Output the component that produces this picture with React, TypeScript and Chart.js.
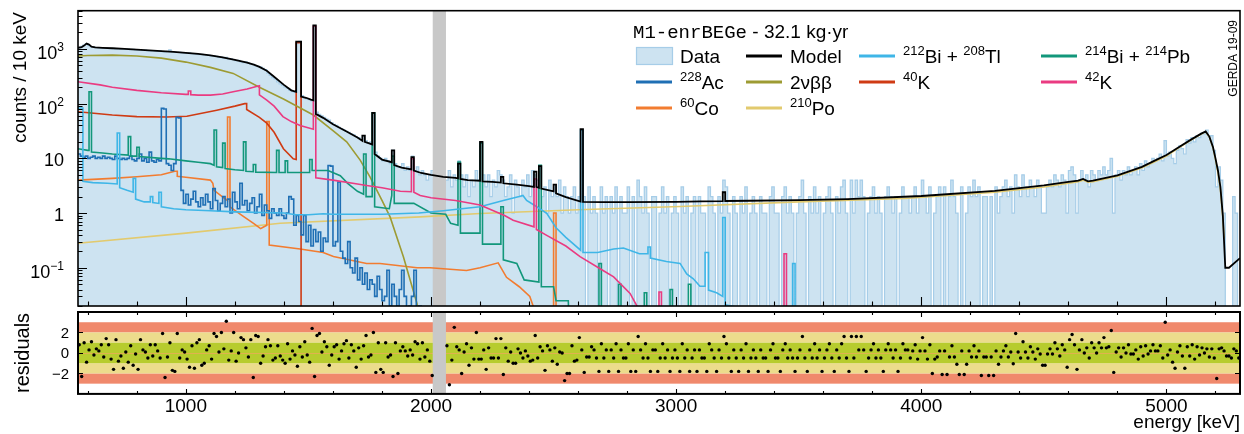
import React, { useEffect, useRef } from "react";
import { Chart, registerables } from "chart.js";

Chart.register(...registerables);

const FONT = '"Liberation Sans", Arial, Helvetica, sans-serif';
const MONO = '"Liberation Mono", "Courier New", monospace';
Chart.defaults.font.family = FONT;

// ---------- axes ----------
const E_MIN = 560;
const E_MAX = 5300;
const BIN_WIDTH = 10;
const Y_MIN = 0.02;
const Y_MAX = 5000;
const RES_MIN = -4;
const RES_MAX = 4;
const BLIND_LO = 2007;
const BLIND_HI = 2061;

const xTickLabels = [1000, 2000, 3000, 4000, 5000];
const yTickValues = [0.1, 1, 10, 100, 1000];
const yTickLabels = ["10^{−1}", "1", "10", "10^{2}", "10^{3}"];
const resTickValues = [-2, 0, 2];
const resTickLabels = ["−2", "0", "2"];

// ---------- data: counts / 10 keV, bins from 560 keV ----------
const dataCounts = [
  1060, 1120, 1180, 1250, 1150, 1090, 1080, 1060, 1040, 1050,
  1030, 1040, 1020, 1010, 1030, 1000, 1010, 990, 1000, 980,
  990, 970, 980, 960, 950, 970, 940, 950, 930, 920,
  930, 910, 900, 920, 890, 880, 900, 960, 880, 870,
  860, 870, 850, 840, 830, 850, 820, 810, 800, 790,
  800, 780, 770, 760, 740, 750, 730, 700, 710, 680,
  700, 650, 660, 640, 610, 620, 580, 560, 580, 550,
  530, 520, 490, 480, 470, 440, 420, 360, 330, 300,
  280, 250, 230, 215, 200, 190, 175, 165, 160, 1250,
  1380, 140, 128, 122, 118, 112, 2650, 70, 64, 60,
  56, 52, 50, 45, 42, 40, 37, 35, 33, 31,
  30, 28, 27, 25, 24, 22, 26, 21, 19, 20,
  68, 13, 11, 10, 9, 10, 9, 8, 14, 8,
  7, 7, 8, 6, 7, 6, 11, 6, 7, 5,
  6, 5, 4, 5, 6, 5, 4, 5, 6, 4,
  4, 6, 3, 5, 4, 9, 5, 3, 5, 2,
  4, 3, 6, 4, 20, 5, 3, 5, 2, 4,
  3, 6, 5, 4, 2, 3, 5, 1, 4, 3,
  2, 4, 3, 5, 2, 6, 5, 4, 7, 2,
  3, 1, 4, 2, 3, 2, 4, 1, 3, 2,
  1, 2, 3, 1, 2, 33, 2, 0, 3, 1,
  2, 1, 0, 3, 1, 2, 0, 2, 1, 3,
  0, 2, 1, 1, 3, 0, 2, 0, 4, 2,
  1, 3, 1, 0, 2, 2, 0, 1, 3, 1,
  2, 0, 1, 2, 1, 0, 3, 1, 2, 0,
  1, 2, 0, 2, 1, 1, 0, 3, 2, 1,
  0, 2, 1, 4, 3, 1, 0, 2, 1, 0,
  2, 1, 3, 0, 1, 2, 1, 0, 2, 1,
  1, 0, 2, 3, 1, 1, 0, 2, 3, 1,
  2, 1, 0, 1, 2, 4, 1, 0, 2, 1,
  3, 1, 2, 0, 1, 2, 3, 1, 0, 2,
  1, 3, 4, 1, 0, 4, 1, 4, 2, 4,
  2, 0, 1, 2, 3, 1, 2, 1, 0, 2,
  3, 2, 1, 2, 0, 1, 3, 2, 2, 1,
  2, 3, 1, 2, 4, 2, 1, 3, 0, 1,
  2, 3, 0, 3, 0, 2, 4, 2, 1, 0,
  3, 0, 1, 3, 2, 4, 2, 3, 0, 2,
  2, 0, 2, 0, 3, 1, 2, 3, 4, 2,
  3, 1, 5, 3, 2, 5, 3, 2, 4, 3,
  2, 4, 3, 1, 1, 3, 4, 3, 5, 4,
  3, 5, 4, 1, 6, 7, 5, 1, 4, 6,
  4, 5, 3, 6, 5, 4, 6, 5, 7, 5,
  6, 10, 1, 5, 6, 4, 6, 5, 7, 5,
  6, 7, 5, 8, 6, 9, 7, 8, 10, 9,
  10, 12, 9, 21, 11, 13, 10, 8, 14, 17,
  15, 12, 22, 19, 24, 20, 26, 24, 29, 28,
  33, 25, 26, 14, 3, 7, 4, 1, 0, 0,
  0, 2, 1, 0,
];

// residuals per 10 keV bin (null = blinded window)
const residuals = [
  0.8, -2.3, 1.0, -0.9, 0.3, 1.1, -0.2, 0.4, 0.2, 0.8,
  -0.4, 1.4, 0.8, -0.6, -1.6, 1.3, -0.8, -0.3, -1.5, 0.1,
  -0.9, 0.7, -1.2, -0.1, -1.6, 1.3, 0.3, 0.1, -0.5, 0.8,
  -0.3, 0.8, 0.2, -0.5, 1.9, -2.4, -0.4, 1.0, -1.7, -1.8,
  1.9, -0.5, 0.3, 0.1, -0.6, -1.4, 0.7, -1.5, 1.0, 1.3,
  -1.2, -1.0, 0.3, 0.7, -0.6, 1.9, 1.6, 0.1, 2.0, 0.4,
  3.1, -0.7, 0.2, 2.0, -0.8, 0.0, 1.5, 1.3, 0.5, -0.4,
  1.3, -2.4, 1.7, 1.6, -1.0, -0.3, 0.6, 1.3, 0.7, -0.7,
  -0.5, 0.7, -0.3, -0.7, -1.0, 0.9, -0.6, 0.2, -0.2, -1.3,
  0.6, -0.4, 1.1, -0.2, -0.9, 2.4, -2.3, 1.7, 1.9, 0.1,
  1.1, 0.6, -1.2, -0.2, 0.6, 0.8, -0.6, 0.2, 0.9, 1.2,
  -0.5, 0.8, 0.2, -1.4, 0.5, -0.6, 0.7, 1.7, -0.4, -0.2,
  2.0, -1.9, 1.0, -1.6, -1.9, 1.0, -0.4, -0.2, -2.3, 1.0,
  -2.0, 0.2, 0.6, 0.2, -0.3, 0.3, -0.2, 1.1, 0.9, -0.6,
  1.0, -0.4, 0.3, -0.8, -2.2, null, null, null, null, null,
  0.7, -3.1, -0.7, 2.5, 0.6, 0.3, -2.0, 0.1, 0.9, -1.2,
  0.5, -0.6, 2.0, -0.6, -0.6, 0.3, -1.6, 0.5, -0.5, -0.5,
  1.4, -0.5, 1.4, -2.1, 0.5, -0.8, 0.1, -1.0, -1.0, 0.4,
  0.0, -0.5, 0.2, -0.3, -0.8, -0.7, 1.7, -0.5, 0.6, 0.2,
  -1.7, 0.7, 0.3, -0.8, 0.5, -1.1, 0.1, 0.0, -2.7, -2.0,
  -2.0, 0.7, -0.8, -0.7, 1.5, 0.3, -1.9, -0.4, -0.4, 0.6,
  0.3, -0.5, -1.8, 0.9, -0.5, 0.3, -1.8, 0.3, -0.5, 0.9,
  -1.8, 0.3, -0.5, -0.5, 0.9, -1.8, 0.3, -1.8, 1.6, 0.3,
  -0.5, 0.9, -0.5, -1.8, 0.3, 0.3, -1.8, -0.5, 0.9, -0.5,
  0.3, -1.8, -0.5, 0.3, -0.5, -1.8, 0.9, -0.5, 0.3, -1.8,
  -0.5, 0.3, -1.8, 0.3, -0.5, -0.5, -1.8, 0.9, 0.3, -0.5,
  -1.8, 0.3, -0.5, 1.6, 0.9, -0.5, -1.8, 0.3, -0.5, -1.8,
  0.3, -0.5, 0.9, -1.8, -0.5, 0.3, -0.5, -1.8, 0.3, -0.5,
  -0.5, -1.8, 0.3, 0.9, -0.5, -0.5, -1.8, 0.3, 0.9, -0.5,
  0.3, -0.5, -1.8, -0.5, 0.3, 1.6, -0.5, -1.8, 0.3, -0.5,
  0.9, -0.5, 0.3, -1.8, -0.5, 0.3, 0.9, -0.5, -1.8, 0.3,
  -0.5, 0.9, 1.6, -0.5, -1.8, 1.6, -0.5, 1.6, 0.3, 1.6,
  0.3, -1.8, -0.5, 0.3, 0.9, -0.5, 0.3, -0.5, -1.8, 0.3,
  0.9, 0.3, -0.5, 0.3, -1.8, -0.5, 0.9, 0.3, 0.3, -0.5,
  0.2, 0.8, -0.6, 0.2, 1.5, 0.2, -0.6, 0.8, -2.0, -0.6,
  -0.4, 0.2, -2.1, 0.2, -2.1, -0.4, 0.7, -0.4, -1.1, -2.1,
  0.2, -2.1, -1.1, 0.2, -0.4, 0.7, -0.4, 0.2, -2.2, -0.4,
  -0.4, -2.2, -0.4, -2.2, 0.2, -1.1, -0.4, 0.2, 0.7, -0.4,
  0.1, -1.05, 1.9, 0.1, -0.5, 1.1, 0.1, -0.5, 0.6, 0.1,
  -0.6, 0.4, -0.1, -1.2, -1.2, -0.1, 0.4, -0.1, 1.0, 0.4,
  -0.3, 0.8, 0.3, -1.4, 1.3, 1.8, 0.8, -1.6, 0.3, 1.3,
  0.0, 0.5, -0.5, 1.0, 0.5, 0.0, 1.0, 0.5, 1.5, 0.5,
  0.6, 2.2, -1.9, 0.1, 0.5, -0.4, 0.5, 0.0, 0.8, -0.1,
  -0.1, 0.3, -0.6, 0.6, -0.3, 0.7, -0.1, 0.2, 0.8, 0.2,
  0.2, 0.7, -0.5, 3.0, -0.2, 0.3, -0.9, -1.5, 0.1, 0.7,
  -0.3, -1.5, 0.6, -0.3, 0.8, -0.6, 0.6, -0.2, 0.5, 0.0,
  0.4, -0.4, 0.4, -0.5, -2.5, 0.4, 0.5, 0.2, -0.3, -0.3,
  -0.5, 0.4, 0.2, -0.5,
];

// ---------- model and components: [energy keV, counts / 10 keV] ----------
const model = [
  [560, 1050], [575, 1080], [585, 1150], [595, 1250], [605, 1200], [615, 1100], [630, 1070], [660, 1050],
  [700, 1030], [750, 1000], [800, 970], [850, 940], [900, 910], [950, 880], [1000, 850], [1050, 810],
  [1100, 760], [1150, 700], [1180, 660], [1200, 630], [1250, 560], [1280, 510], [1300, 470], [1330, 400],
  [1360, 310], [1400, 220], [1430, 175], [1450, 165], [1450, 1360], [1470, 1360], [1470, 135], [1490, 128],
  [1510, 118], [1520, 115], [1520, 2700], [1530, 2700], [1530, 65], [1560, 55], [1600, 42], [1650, 32],
  [1700, 24], [1720, 21], [1720, 26], [1730, 26], [1730, 20], [1760, 18], [1760, 68], [1770, 68],
  [1770, 12], [1800, 9.5], [1840, 8.5], [1840, 14], [1850, 14], [1850, 7.5], [1880, 6.8], [1920, 6.3],
  [1920, 10.5], [1930, 10.5], [1930, 6.0], [1960, 5.4], [2000, 5.0], [2050, 4.6], [2100, 4.4], [2110, 4.3],
  [2110, 8], [2120, 8], [2120, 4.2], [2150, 4.0], [2200, 3.9], [2200, 20], [2210, 20], [2210, 3.8],
  [2250, 3.7], [2285, 3.6], [2285, 4.6], [2295, 4.6], [2295, 3.5], [2350, 3.3], [2400, 3.1], [2420, 3.0],
  [2420, 5.7], [2430, 5.7], [2430, 3.0], [2440, 2.9], [2440, 7.2], [2450, 7.2], [2450, 2.8], [2500, 2.5],
  [2500, 3.3], [2510, 3.3], [2510, 2.3], [2550, 1.95], [2610, 1.62], [2610, 34], [2620, 34], [2620, 1.6],
  [2700, 1.58], [2800, 1.58], [3000, 1.6], [3100, 1.63], [3190, 1.65], [3190, 2.4], [3200, 2.4], [3200, 1.66],
  [3300, 1.68], [3500, 1.72], [3700, 1.8], [4000, 2.05], [4300, 2.55], [4500, 3.2], [4600, 3.7], [4640, 3.9],
  [4660, 4.2], [4680, 3.8], [4700, 3.9], [4800, 4.9], [4900, 7.0], [4950, 9.0], [5000, 11.5], [5050, 16],
  [5100, 22], [5140, 28], [5160, 31], [5175, 25], [5190, 16], [5200, 10], [5210, 6], [5220, 3],
  [5230, 0.9], [5240, 0.1], [5255, 0.1], [5300, 0.15],
];

const bi212tl208 = [
  [560, 83], [580, 83], [580, 3.8], [620, 3.6], [680, 3.5], [720, 3.4], [720, 29], [730, 29],
  [730, 2.9], [760, 2.6], [785, 2.4], [785, 4.3], [795, 4.3], [795, 1.8], [830, 1.6], [855, 1.6],
  [855, 2.0], [865, 2.0], [865, 1.55], [890, 1.5], [890, 2.4], [900, 2.4], [900, 1.3], [950, 1.2],
  [1000, 1.15], [1100, 1.1], [1200, 1.05], [1400, 1.0], [1450, 0.93], [1500, 0.93], [1560, 0.97], [1600, 0.95],
  [1800, 0.95], [1950, 1.0], [2050, 1.1], [2200, 1.3], [2295, 1.7], [2360, 2.0], [2375, 2.1], [2390, 1.7],
  [2425, 1.36], [2472, 0.99], [2510, 0.54], [2550, 0.36], [2610, 0.21], [2610, 33], [2620, 33], [2620, 0.19],
  [2680, 0.19], [2745, 0.22], [2785, 0.23], [2850, 0.18], [2885, 0.18], [2885, 0.24], [2895, 0.24], [2895, 0.15],
  [2960, 0.13], [3016, 0.12], [3043, 0.077], [3070, 0.063], [3097, 0.046], [3118, 0.046], [3118, 0.19], [3132, 0.19],
  [3132, 0.039], [3165, 0.035], [3190, 0.03], [3190, 0.83], [3200, 0.83], [3200, 0.021], [3250, 0.019], [3260, 0.001],
  [3475, 0.001], [3475, 0.12], [3485, 0.12], [3485, 0.001],
];

const bi214pb214 = [
  [560, 15], [600, 14], [605, 14], [605, 165], [615, 165], [615, 13], [660, 12.5], [700, 12],
  [765, 11.5], [765, 25], [775, 25], [775, 11], [800, 11], [800, 16], [810, 16], [810, 10.8],
  [900, 10], [930, 9.8], [1000, 9], [1050, 8.5], [1100, 8], [1115, 7.5], [1115, 33], [1125, 33],
  [1125, 7], [1150, 6.8], [1150, 19], [1160, 19], [1160, 6.5], [1200, 6.2], [1235, 6], [1235, 20],
  [1245, 20], [1245, 5.8], [1275, 5.7], [1275, 7.7], [1285, 7.7], [1285, 5.6], [1370, 5.5], [1370, 14],
  [1380, 14], [1380, 5.5], [1405, 5.5], [1405, 9], [1415, 9], [1415, 5.5], [1505, 5.5], [1505, 9.5],
  [1515, 9.5], [1515, 6.0], [1580, 6.0], [1630, 4.8], [1660, 3.5], [1700, 2.5], [1725, 2.2], [1725, 12],
  [1735, 12], [1735, 2.0], [1760, 2.0], [1760, 67], [1770, 67], [1770, 1.3], [1830, 1.2], [1840, 2.1],
  [1840, 11], [1850, 11], [1850, 1.5], [1930, 1.5], [2000, 1.0], [2060, 0.95], [2080, 0.65], [2110, 0.6],
  [2110, 8.6], [2120, 8.6], [2120, 0.43], [2200, 0.43], [2200, 19], [2210, 19], [2210, 0.27], [2285, 0.27],
  [2285, 1.3], [2295, 1.3], [2295, 0.14], [2350, 0.12], [2380, 0.06], [2440, 0.055], [2440, 7.5], [2450, 7.5],
  [2450, 0.045], [2500, 0.045], [2510, 0.025], [2560, 0.025], [2570, 0.001],
  [2685, 0.001], [2685, 0.12], [2695, 0.12], [2695, 0.001], [2765, 0.001], [2765, 0.05], [2775, 0.05], [2775, 0.001],
  [2870, 0.001], [2870, 0.035], [2880, 0.035], [2880, 0.001], [2975, 0.001], [2975, 0.04], [2985, 0.04], [2985, 0.001],
  [3050, 0.001], [3050, 0.05], [3060, 0.05], [3060, 0.001],
];

// 228Ac, 10 keV bins from 560 keV
const ac228 = [
  12, 11, 10.5, 11, 10, 10.5, 11, 10, 10.5, 10,
  11, 10, 10.5, 10, 9.5, 11, 10, 9.5, 10, 9.5,
  10, 11, 9.5, 9, 10, 12, 9, 10, 8.5, 13,
  9, 8.5, 9.5, 9, 82, 80, 8, 7.5, 6, 8,
  56, 55, 2.6, 1.5, 2.2, 1.4, 1.8, 2.5, 1.6, 1.3,
  1.9, 1.4, 2.2, 1.6, 1.2, 2.8, 1.7, 1.1, 1.5, 2.0,
  1.3, 1.8, 1.0, 2.4, 1.6, 1.2, 3.5, 1.4, 1.7, 1.1,
  1.5, 1.9, 1.0, 1.3, 2.2, 0.9, 1.4, 1.1, 0.8, 1.2,
  1.0, 0.9, 1.2, 0.9, 0.8, 1.0, 2.0, 1.8, 0.6, 0.9,
  0.7, 0.4, 0.9, 0.3, 0.6, 0.25, 0.5, 0.3, 0.45, 0.2,
  0.35, 0.3, 7.4, 7.2, 0.25, 0.3, 3.7, 0.2, 0.15, 0.12,
  0.3, 0.1, 0.08, 0.15, 0.06, 0.1, 0.05, 0.08, 0.04, 0.06,
  0.05, 0.03, 0.07, 0.04, 0.025, 0.03, 0.09, 0.02, 0.05, 0.03,
  0.02, 0.04, 0.09, 0.03, 0.01, 0.02, 0.03, 0.09, 0.01, 0.02,
  0.01,
];

const twoNuBB = [
  [560, 742], [600, 760], [700, 770], [800, 745], [900, 680], [1000, 575], [1100, 460], [1193, 357],
  [1300, 200], [1400, 120], [1520, 62], [1600, 32], [1656, 20], [1711, 9.3], [1751, 4.6], [1800, 1.7],
  [1833, 0.85], [1887, 0.16], [1943, 0.022], [1960, 0.005],
];

const k40 = [
  [560, 71], [700, 62], [800, 58], [922, 57], [1004, 59], [1126, 76], [1200, 90], [1240, 100],
  [1248, 100], [1248, 78], [1300, 56], [1330, 44], [1360, 30], [1398, 15], [1438, 9.8], [1450, 9.5],
  [1450, 1300], [1470, 1300], [1470, 0.001],
];

const k42 = [
  [560, 251], [650, 220], [700, 200], [800, 175], [900, 158], [1000, 148], [1010, 148], [1010, 170],
  [1020, 170], [1020, 146], [1050, 143], [1100, 143], [1150, 150], [1193, 165], [1250, 185], [1295, 210],
  [1300, 212], [1300, 145], [1330, 116], [1360, 90], [1396, 58], [1430, 47], [1466, 40], [1520, 34],
  [1520, 2600], [1530, 2600], [1530, 4.4], [1600, 4.0], [1700, 3.4], [1737, 3.2], [1800, 2.9], [1875, 2.5],
  [1920, 2.45], [1920, 9.9], [1930, 9.9], [1930, 2.4], [1956, 2.1], [2000, 1.9], [2100, 1.7], [2200, 1.4],
  [2300, 0.9], [2335, 0.74], [2420, 0.56], [2420, 4.2], [2430, 4.2], [2430, 0.5], [2472, 0.39], [2550, 0.25],
  [2608, 0.16], [2700, 0.09], [2745, 0.068], [2812, 0.034], [2840, 0.02], [2850, 0.001],
  [2930, 0.001], [2930, 0.036], [2940, 0.036], [2940, 0.001], [3440, 0.001], [3440, 0.18], [3450, 0.18], [3450, 0.001],
];

const co60 = [
  [560, 4.0], [700, 4.3], [800, 4.6], [900, 5.0], [955, 5.8], [965, 5.8], [965, 4.7], [1000, 4.5],
  [1100, 4.0], [1110, 3.5], [1115, 2.6], [1165, 1.75], [1170, 1.7], [1170, 57], [1180, 57], [1180, 1.3],
  [1230, 0.9], [1276, 0.65], [1305, 0.52], [1315, 0.55], [1330, 0.6], [1330, 47], [1340, 47], [1340, 0.26],
  [1466, 0.22], [1560, 0.19], [1602, 0.16], [1737, 0.12], [1792, 0.12], [1943, 0.1], [1996, 0.1], [2145, 0.089],
  [2200, 0.1], [2274, 0.123], [2308, 0.067], [2360, 0.045], [2403, 0.03], [2420, 0.018], [2430, 0.001],
  [2500, 0.001], [2500, 1.0], [2510, 1.0], [2510, 0.001],
];

const po210 = [
  [560, 0.28], [1000, 0.43], [1385, 0.65], [1956, 0.85], [2200, 0.98], [2600, 1.15], [3016, 1.32], [3500, 1.6],
  [3930, 1.85], [4300, 2.4], [4500, 3.0], [4600, 3.5], [4640, 3.75], [4660, 4.0], [4680, 3.65], [4700, 3.75],
  [4800, 4.7], [4900, 6.7], [4950, 8.6], [5000, 11], [5050, 15.5], [5100, 21.5], [5140, 27.5], [5160, 30.5],
  [5175, 24.5], [5190, 15.5], [5200, 9.5], [5210, 5.5], [5220, 2.7], [5230, 0.8], [5235, 0.35],
];

// ---------- styles ----------
const DATA_FILL = "#cde3f1";
const DATA_LINE = "#a6cde8";
const C_MODEL = "#000000";
const C_BI212 = "#3fb6e7";
const C_BI214 = "#12977b";
const C_AC228 = "#1f6fb4";
const C_BB = "#9d9b33";
const C_K40 = "#cf3b14";
const C_K42 = "#ea3b81";
const C_CO60 = "#f27c30";
const C_PO210 = "#e2ca6e";

const legendItems = [
  { text: "Data", color: DATA_FILL, box: true, col: 0, row: 0 },
  { text: "Model", color: C_MODEL, col: 1, row: 0 },
  { text: "^{212}Bi + ^{208}Tl", color: C_BI212, col: 2, row: 0 },
  { text: "^{214}Bi + ^{214}Pb", color: C_BI214, col: 3, row: 0 },
  { text: "^{228}Ac", color: C_AC228, col: 0, row: 1 },
  { text: "2νββ", color: C_BB, col: 1, row: 1 },
  { text: "^{40}K", color: C_K40, col: 2, row: 1 },
  { text: "^{42}K", color: C_K42, col: 3, row: 1 },
  { text: "^{60}Co", color: C_CO60, col: 0, row: 2 },
  { text: "^{210}Po", color: C_PO210, col: 1, row: 2 },
];
const legendColX = [636, 746, 859, 1041];
const legendRowY = [56, 82, 108];

// ---------- helpers ----------
const toXY = (pts: number[][]) => pts.map(([x, y]) => ({ x, y }));
const histXY = (start: number, vals: number[], dropEnd: boolean) => {
  const out = vals.map((v, i) => ({ x: start + i * BIN_WIDTH, y: v > 0 ? v : 1e-3 }));
  const endX = start + vals.length * BIN_WIDTH;
  out.push({ x: endX, y: dropEnd ? 1e-3 : out[out.length - 1].y });
  return out;
};

function parseRich(str: string) {
  const out: { t: string; sup: boolean }[] = [];
  const re = /\^\{([^}]*)\}/g;
  let last = 0;
  let m: RegExpExecArray | null;
  while ((m = re.exec(str))) {
    if (m.index > last) out.push({ t: str.slice(last, m.index), sup: false });
    out.push({ t: m[1], sup: true });
    last = re.lastIndex;
  }
  if (last < str.length) out.push({ t: str.slice(last), sup: false });
  return out;
}

function drawRich(ctx: CanvasRenderingContext2D, str: string, x: number, baseline: number,
  baseFont: string, supFont: string, raise: number, align: "left" | "right") {
  const segs = parseRich(str);
  let w = 0;
  for (const s of segs) {
    ctx.font = s.sup ? supFont : baseFont;
    w += ctx.measureText(s.t).width;
  }
  let cx = align === "right" ? x - w : x;
  ctx.textAlign = "left";
  ctx.textBaseline = "alphabetic";
  for (const s of segs) {
    ctx.font = s.sup ? supFont : baseFont;
    ctx.fillText(s.t, cx, s.sup ? baseline - raise : baseline);
    cx += ctx.measureText(s.t).width;
  }
}

const DATA_INDEX = 9;

const topPlugin = {
  id: "topDecor",
  afterDatasetDraw(chart: any, args: any) {
    if (args.index !== DATA_INDEX) return;
    const { ctx, chartArea: a, scales } = chart;
    const x0 = scales.x.getPixelForValue(BLIND_LO);
    const x1 = scales.x.getPixelForValue(BLIND_HI);
    ctx.save();
    ctx.fillStyle = "#c8c8c8";
    ctx.fillRect(x0, a.top, x1 - x0, a.bottom - a.top);
    ctx.restore();
  },
  afterDraw(chart: any) {
    const { ctx, chartArea: a, scales } = chart;
    const xs = scales.x;
    const ys = scales.y;
    ctx.save();
    ctx.strokeStyle = "#000";
    ctx.lineWidth = 1.6;
    ctx.strokeRect(a.left, a.top, a.right - a.left, a.bottom - a.top);
    ctx.lineWidth = 1.1;
    ctx.beginPath();
    for (let e = 600; e <= 5200; e += 200) {
      const px = Math.round(xs.getPixelForValue(e)) + 0.5;
      const len = e % 1000 === 0 ? 9 : 4.5;
      ctx.moveTo(px, a.bottom);
      ctx.lineTo(px, a.bottom - len);
    }
    for (let d = -2; d <= 3; d++) {
      for (let m = 1; m <= 9; m++) {
        const v = m * Math.pow(10, d);
        if (v < Y_MIN * 0.999 || v > Y_MAX * 1.001) continue;
        const py = Math.round(ys.getPixelForValue(v)) + 0.5;
        const len = m === 1 ? 9 : 4.5;
        ctx.moveTo(a.left, py);
        ctx.lineTo(a.left + len, py);
      }
    }
    ctx.stroke();

    // y tick labels
    ctx.fillStyle = "#000";
    yTickValues.forEach((v, i) => {
      const py = ys.getPixelForValue(v);
      const lbl = yTickLabels[i];
      const hasSup = lbl.indexOf("^") >= 0;
      drawRich(ctx, lbl, 64, py + (hasSup ? 10 : 8), `18px ${FONT}`, `12px ${FONT}`, 8, "right");
    });

    // axis title
    ctx.save();
    ctx.translate(21, 12);
    ctx.rotate(-Math.PI / 2);
    ctx.font = `19px ${FONT}`;
    ctx.textAlign = "right";
    ctx.textBaseline = "middle";
    ctx.fillText("counts / 10 keV", 0, 0);
    ctx.restore();

    // GERDA stamp
    ctx.save();
    ctx.translate(1234, 20);
    ctx.rotate(-Math.PI / 2);
    ctx.font = `12px ${FONT}`;
    ctx.textAlign = "right";
    ctx.textBaseline = "middle";
    ctx.fillText("GERDA 19-09", 0, 0);
    ctx.restore();

    // legend header
    ctx.textAlign = "left";
    ctx.textBaseline = "alphabetic";
    ctx.font = `19px ${MONO}`;
    ctx.fillText("M1-enrBEGe", 633, 38);
    const w = ctx.measureText("M1-enrBEGe").width;
    ctx.font = `19px ${FONT}`;
    ctx.fillText(" - 32.1 kg·yr", 633 + w, 38);

    // legend entries
    legendItems.forEach((it: any) => {
      const x = legendColX[it.col];
      const y = legendRowY[it.row];
      if (it.box) {
        ctx.fillStyle = DATA_FILL;
        ctx.fillRect(x, y - 9, 37, 18);
        ctx.strokeStyle = DATA_LINE;
        ctx.lineWidth = 1.2;
        ctx.strokeRect(x + 0.5, y - 8.5, 36, 17);
      } else {
        ctx.strokeStyle = it.color;
        ctx.lineWidth = 3;
        ctx.beginPath();
        ctx.moveTo(x, y);
        ctx.lineTo(x + 36, y);
        ctx.stroke();
      }
      ctx.fillStyle = "#000";
      drawRich(ctx, it.text, x + 44, y + 7, `19px ${FONT}`, `13px ${FONT}`, 8, "left");
    });
    ctx.restore();
  },
};

const resPlugin = {
  id: "resDecor",
  beforeDatasetsDraw(chart: any) {
    const { ctx, chartArea: a, scales } = chart;
    const ys = scales.y;
    const xs = scales.x;
    const band = (lo: number, hi: number, color: string) => {
      const y0 = ys.getPixelForValue(hi);
      const y1 = ys.getPixelForValue(lo);
      ctx.fillStyle = color;
      ctx.fillRect(a.left, y0, a.right - a.left, y1 - y0);
    };
    ctx.save();
    band(2, 3, "#f0896c");
    band(-3, -2, "#f0896c");
    band(1, 2, "#ecdc8c");
    band(-2, -1, "#ecdc8c");
    band(-1, 1, "#b7cc2e");
    ctx.strokeStyle = "#e0b24e";
    ctx.lineWidth = 1;
    ctx.beginPath();
    const y0 = Math.round(ys.getPixelForValue(0)) + 0.5;
    ctx.moveTo(a.left, y0);
    ctx.lineTo(a.right, y0);
    ctx.stroke();
    const bx0 = xs.getPixelForValue(BLIND_LO);
    const bx1 = xs.getPixelForValue(BLIND_HI);
    ctx.fillStyle = "#c8c8c8";
    ctx.fillRect(bx0, a.top, bx1 - bx0, a.bottom - a.top);
    ctx.restore();
  },
  afterDraw(chart: any) {
    const { ctx, chartArea: a, scales } = chart;
    const xs = scales.x;
    const ys = scales.y;
    ctx.save();
    ctx.strokeStyle = "#000";
    ctx.lineWidth = 2;
    ctx.strokeRect(a.left, a.top, a.right - a.left, a.bottom - a.top);
    ctx.lineWidth = 1.1;
    ctx.beginPath();
    for (let e = 600; e <= 5200; e += 200) {
      const px = Math.round(xs.getPixelForValue(e)) + 0.5;
      const len = e % 1000 === 0 ? 5 : 3;
      ctx.moveTo(px, a.bottom);
      ctx.lineTo(px, a.bottom - len);
      ctx.moveTo(px, a.top);
      ctx.lineTo(px, a.top + len);
    }
    resTickValues.forEach((v) => {
      const py = Math.round(ys.getPixelForValue(v)) + 0.5;
      ctx.moveTo(a.left, py);
      ctx.lineTo(a.left + 5, py);
      ctx.moveTo(a.right, py);
      ctx.lineTo(a.right - 5, py);
    });
    ctx.stroke();

    ctx.fillStyle = "#000";
    ctx.font = `19px ${FONT}`;
    ctx.textAlign = "center";
    ctx.textBaseline = "alphabetic";
    xTickLabels.forEach((v) => {
      ctx.fillText(String(v), xs.getPixelForValue(v), 104);
    });
    ctx.textAlign = "right";
    ctx.fillText("energy [keV]", a.right, 120);

    ctx.font = `15px ${FONT}`;
    ctx.textAlign = "right";
    ctx.textBaseline = "middle";
    resTickValues.forEach((v, i) => {
      ctx.fillText(resTickLabels[i], 69, ys.getPixelForValue(v) + 1);
    });

    ctx.save();
    ctx.translate(23, (a.top + a.bottom) / 2);
    ctx.rotate(-Math.PI / 2);
    ctx.font = `20px ${FONT}`;
    ctx.textAlign = "center";
    ctx.textBaseline = "middle";
    ctx.fillText("residuals", 0, 0);
    ctx.restore();
    ctx.restore();
  },
};

function lineDs(label: string, pts: number[][], color: string, order: number, width = 1.6) {
  return {
    label,
    data: toXY(pts),
    borderColor: color,
    borderWidth: width,
    pointRadius: 0,
    fill: false,
    tension: 0,
    order,
    clip: 0,
  };
}

export default function App() {
  const topRef = useRef<HTMLCanvasElement>(null);
  const botRef = useRef<HTMLCanvasElement>(null);

  useEffect(() => {
    const top = new Chart(topRef.current as HTMLCanvasElement, {
      type: "line",
      data: {
        datasets: [
          lineDs("Model", model, C_MODEL, 0, 1.8),
          lineDs("212Bi + 208Tl", bi212tl208, C_BI212, 3),
          lineDs("214Bi + 214Pb", bi214pb214, C_BI214, 4),
          {
            label: "228Ac",
            data: histXY(E_MIN, ac228, true),
            borderColor: C_AC228,
            borderWidth: 1.6,
            pointRadius: 0,
            fill: false,
            stepped: "before",
            order: 5,
            clip: 0,
          },
          lineDs("2νββ", twoNuBB, C_BB, 6),
          lineDs("40K", k40, C_K40, 7),
          lineDs("42K", k42, C_K42, 2),
          lineDs("60Co", co60, C_CO60, 8),
          lineDs("210Po", po210, C_PO210, 9),
          {
            label: "Data",
            data: histXY(E_MIN, dataCounts, false),
            borderColor: DATA_LINE,
            backgroundColor: DATA_FILL,
            borderWidth: 1.2,
            pointRadius: 0,
            fill: "start",
            stepped: "before",
            order: 100,
            clip: 0,
          },
        ],
      } as any,
      options: {
        animation: false,
        responsive: false,
        devicePixelRatio: 1,
        events: [],
        layout: { padding: { left: 78, right: 4, top: 10.7, bottom: 2 } },
        scales: {
          x: { type: "linear", min: E_MIN, max: E_MAX, display: false },
          y: { type: "logarithmic", min: Y_MIN, max: Y_MAX, display: false },
        },
        plugins: { legend: { display: false }, tooltip: { enabled: false } },
      } as any,
      plugins: [topPlugin],
    });

    const resPoints = residuals
      .map((r, i) => (r === null ? null : { x: E_MIN + i * BIN_WIDTH + BIN_WIDTH / 2, y: r }))
      .filter((p) => p !== null);

    const bot = new Chart(botRef.current as HTMLCanvasElement, {
      type: "scatter",
      data: {
        datasets: [
          {
            label: "residuals",
            data: resPoints,
            pointRadius: 1.7,
            pointBackgroundColor: "#000",
            pointBorderWidth: 0,
            borderColor: "#000",
          },
        ],
      } as any,
      options: {
        animation: false,
        responsive: false,
        devicePixelRatio: 1,
        events: [],
        layout: { padding: { left: 78, right: 4, top: 2.7, bottom: 40.1 } },
        scales: {
          x: { type: "linear", min: E_MIN, max: E_MAX, display: false },
          y: { type: "linear", min: RES_MIN, max: RES_MAX, display: false },
        },
        plugins: { legend: { display: false }, tooltip: { enabled: false } },
      } as any,
      plugins: [resPlugin],
    });

    return () => {
      top.destroy();
      bot.destroy();
    };
  }, []);

  return (
    <div style={{ position: "absolute", left: 0, top: 0, width: 1244, height: 434, background: "#fff" }}>
      <canvas ref={topRef} width={1244} height={308}
        style={{ position: "absolute", left: 0, top: 0, width: 1244, height: 308 }} />
      <canvas ref={botRef} width={1244} height={126}
        style={{ position: "absolute", left: 0, top: 308, width: 1244, height: 126 }} />
    </div>
  );
}
